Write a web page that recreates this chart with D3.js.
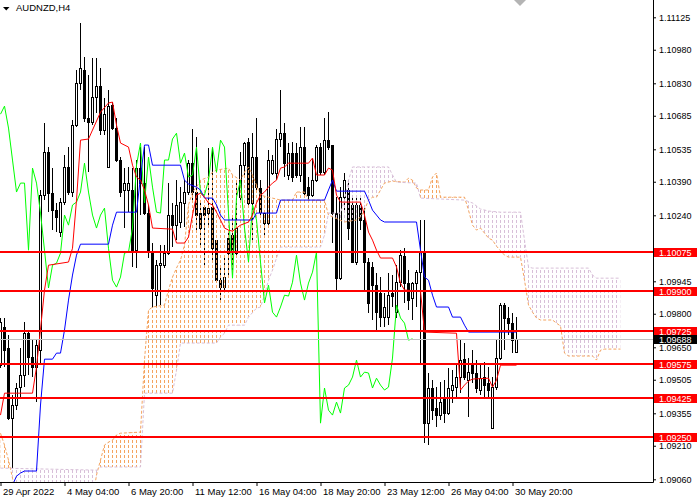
<!DOCTYPE html>
<html>
<head>
<meta charset="utf-8">
<script src="https://cdn.jsdelivr.net/npm/d3@7"></script>
<style>
  body { margin: 0; background: #fff; }
  svg { display: block; }
</style>
</head>
<body>
<script>
// AUDNZD H4 candles, oldest first (bar 0 = 29 Apr 12:00, bar 129 = 31 May 00:00)
const opens = [
  1.09570, 1.09740, 1.09646, 1.09334, 1.09392, 1.09472, 1.09526, 1.09713, 1.09606, 1.09562,
  1.09637, 1.10330, 1.10523, 1.10339, 1.10263, 1.10165, 1.10299, 1.10456, 1.10344, 1.10643,
  1.10831, 1.10889, 1.10675, 1.10657, 1.10768, 1.10818, 1.10621, 1.10456, 1.10733, 1.10630,
  1.10487, 1.10353, 1.10353, 1.10353, 1.10084, 1.10451, 1.10384, 1.10250, 1.10071, 1.09883,
  1.10017, 1.10017, 1.10071, 1.10241, 1.10196, 1.10210, 1.10295, 1.10344, 1.10473, 1.10344,
  1.10250, 1.10277, 1.10250, 1.10277, 1.10129, 1.09950, 1.09919, 1.10138, 1.10152, 1.10071,
  1.10321, 1.10464, 1.10567, 1.10295, 1.10500, 1.10362, 1.10205, 1.10205, 1.10429, 1.10429,
  1.10581, 1.10607, 1.10420, 1.10518, 1.10518, 1.10420, 1.10545, 1.10366, 1.10330, 1.10397,
  1.10545, 1.10433, 1.10576, 1.10554, 1.10250, 1.09959, 1.10321, 1.10353, 1.10286, 1.10031,
  1.10286, 1.10219, 1.10031, 1.10009, 1.09928, 1.09892, 1.09785, 1.09785, 1.09892, 1.09807,
  1.09941, 1.10058, 1.09937, 1.09870, 1.09937, 1.09986, 1.10076, 1.09311, 1.09468, 1.09378,
  1.09347, 1.09423, 1.09356, 1.09459, 1.09472, 1.09517, 1.09597, 1.09503, 1.09579, 1.09535,
  1.09459, 1.09517, 1.09490, 1.09289, 1.09472, 1.09602, 1.09839, 1.09781, 1.09758, 1.09629
];
const highs = [
  1.09781, 1.09781, 1.09705, 1.09436, 1.09490, 1.09646, 1.09763, 1.09727, 1.09682, 1.09682,
  1.10353, 1.10652, 1.10545, 1.10451, 1.10295, 1.10317, 1.10509, 1.10545, 1.10666, 1.10889,
  1.11099, 1.10947, 1.10867, 1.10943, 1.10943, 1.10898, 1.10764, 1.10800, 1.10746, 1.10675,
  1.10500, 1.10451, 1.10456, 1.10451, 1.10487, 1.10545, 1.10545, 1.10286, 1.10116, 1.10040,
  1.10107, 1.10107, 1.10384, 1.10295, 1.10397, 1.10366, 1.10397, 1.10487, 1.10625, 1.10590,
  1.10295, 1.10286, 1.10540, 1.10540, 1.10129, 1.10017, 1.10053, 1.10174, 1.10228, 1.10397,
  1.10523, 1.10567, 1.10585, 1.10607, 1.10675, 1.10397, 1.10254, 1.10531, 1.10509, 1.10625,
  1.10800, 1.10652, 1.10563, 1.10567, 1.10563, 1.10634, 1.10634, 1.10411, 1.10496, 1.10554,
  1.10563, 1.10675, 1.10701, 1.10554, 1.10321, 1.10366, 1.10429, 1.10397, 1.10321, 1.10330,
  1.10321, 1.10277, 1.10049, 1.10031, 1.09982, 1.09964, 1.09892, 1.09982, 1.09973, 1.10017,
  1.10084, 1.10093, 1.09995, 1.09941, 1.09995, 1.10219, 1.10219, 1.09535, 1.09503, 1.09472,
  1.09494, 1.09503, 1.09557, 1.09548, 1.09570, 1.09682, 1.09669, 1.09602, 1.09637, 1.09593,
  1.09579, 1.09584, 1.09562, 1.09517, 1.09682, 1.09848, 1.09848, 1.09830, 1.09803, 1.09785
];
const lows = [
  1.09557, 1.09562, 1.09325, 1.09110, 1.09369, 1.09427, 1.09472, 1.09526, 1.09517, 1.09405,
  1.09570, 1.10308, 1.10254, 1.10174, 1.10165, 1.10143, 1.10286, 1.10330, 1.10321, 1.10634,
  1.10800, 1.10657, 1.10433, 1.10643, 1.10697, 1.10599, 1.10599, 1.10451, 1.10621, 1.10478,
  1.10321, 1.10183, 1.10254, 1.10009, 1.10004, 1.10241, 1.10241, 1.10049, 1.09825, 1.09825,
  1.09839, 1.10004, 1.10062, 1.10098, 1.10129, 1.10183, 1.10187, 1.10330, 1.10295, 1.10174,
  1.10098, 1.10004, 1.10187, 1.10040, 1.09937, 1.09861, 1.09892, 1.09964, 1.09986, 1.10062,
  1.10308, 1.10420, 1.10286, 1.10116, 1.10344, 1.10241, 1.10143, 1.10187, 1.10420, 1.10397,
  1.10545, 1.10411, 1.10397, 1.10388, 1.10406, 1.10388, 1.10330, 1.10308, 1.10321, 1.10388,
  1.10420, 1.10420, 1.10531, 1.10116, 1.09906, 1.09950, 1.10263, 1.10129, 1.10026, 1.10017,
  1.10174, 1.09906, 1.09803, 1.09772, 1.09727, 1.09740, 1.09740, 1.09749, 1.09830, 1.09781,
  1.09919, 1.09848, 1.09816, 1.09772, 1.09830, 1.09579, 1.09222, 1.09213, 1.09325, 1.09293,
  1.09325, 1.09311, 1.09347, 1.09401, 1.09427, 1.09445, 1.09503, 1.09338, 1.09490, 1.09445,
  1.09436, 1.09427, 1.09427, 1.09289, 1.09459, 1.09593, 1.09637, 1.09705, 1.09624, 1.09624
];
const closes = [
  1.09763, 1.09637, 1.09334, 1.09392, 1.09468, 1.09526, 1.09713, 1.09606, 1.09562, 1.09660,
  1.10330, 1.10523, 1.10339, 1.10263, 1.10232, 1.10299, 1.10456, 1.10344, 1.10643, 1.10831,
  1.10898, 1.10675, 1.10657, 1.10768, 1.10818, 1.10621, 1.10692, 1.10728, 1.10630, 1.10487,
  1.10344, 1.10384, 1.10384, 1.10084, 1.10451, 1.10384, 1.10250, 1.10084, 1.09915, 1.10017,
  1.10026, 1.10071, 1.10241, 1.10196, 1.10286, 1.10299, 1.10344, 1.10473, 1.10344, 1.10241,
  1.10183, 1.10241, 1.10272, 1.10093, 1.09950, 1.09919, 1.09964, 1.10071, 1.10076, 1.10183,
  1.10464, 1.10563, 1.10295, 1.10500, 1.10366, 1.10254, 1.10250, 1.10487, 1.10487, 1.10581,
  1.10607, 1.10473, 1.10518, 1.10411, 1.10420, 1.10545, 1.10339, 1.10330, 1.10397, 1.10545,
  1.10433, 1.10576, 1.10545, 1.10250, 1.09959, 1.10321, 1.10397, 1.10183, 1.10031, 1.10286,
  1.10219, 1.10031, 1.09848, 1.09928, 1.09807, 1.09785, 1.09830, 1.09883, 1.09879, 1.09941,
  1.10062, 1.09937, 1.09861, 1.09937, 1.09986, 1.10076, 1.09311, 1.09468, 1.09369, 1.09347,
  1.09405, 1.09356, 1.09468, 1.09481, 1.09517, 1.09593, 1.09517, 1.09539, 1.09535, 1.09468,
  1.09512, 1.09481, 1.09459, 1.09472, 1.09602, 1.09839, 1.09781, 1.09758, 1.09682, 1.09688
];

// Ichimoku lines as [bar, price] turning points
const tenkan = [
  [0, 1.09347], [1, 1.09445], [8, 1.09445], [9, 1.09562], [10, 1.09731], [11, 1.09906],
  [12, 1.10017], [17, 1.10031], [18, 1.10093], [19, 1.10308], [20, 1.10576], [22, 1.10581],
  [23, 1.10621], [25, 1.10701], [27, 1.10742], [28, 1.10746], [29, 1.10643], [30, 1.10563],
  [32, 1.10545], [33, 1.10464], [34, 1.10411], [35, 1.10397], [36, 1.10353], [37, 1.10286],
  [38, 1.10183], [43, 1.10178], [44, 1.10116], [46, 1.10116], [47, 1.10143], [48, 1.10241],
  [49, 1.10330], [50, 1.10339], [51, 1.10321], [52, 1.10295], [53, 1.10286], [54, 1.10254],
  [55, 1.10219], [56, 1.10183], [57, 1.10174], [58, 1.10169], [59, 1.10183], [60, 1.10196],
  [62, 1.10210], [63, 1.10241], [64, 1.10295], [65, 1.10330], [66, 1.10344], [67, 1.10366],
  [68, 1.10384], [69, 1.10397], [70, 1.10451], [71, 1.10456], [72, 1.10473], [77, 1.10473],
  [78, 1.10496], [79, 1.10420], [81, 1.10420], [82, 1.10451], [83, 1.10442], [84, 1.10330],
  [85, 1.10299], [90, 1.10299], [91, 1.10241], [92, 1.10165], [93, 1.10129], [94, 1.10084],
  [95, 1.10049], [98, 1.10049], [99, 1.10009], [100, 1.09937], [101, 1.09906], [105, 1.09901],
  [106, 1.09718], [114, 1.09713], [115, 1.09459], [116, 1.09481], [117, 1.09499], [118, 1.09508],
  [122, 1.09512], [123, 1.09472], [124, 1.09503], [125, 1.09570], [129, 1.09570]
];
const kijun = [
  [3, 1.09034], [4, 1.09074], [5, 1.09088], [6, 1.09097], [9, 1.09097], [10, 1.09392],
  [11, 1.09597], [13, 1.09597], [14, 1.09624], [15, 1.09624], [16, 1.09727], [17, 1.09861],
  [18, 1.09973], [19, 1.10062], [20, 1.10111], [27, 1.10111], [28, 1.10196], [29, 1.10254],
  [34, 1.10254], [35, 1.10411], [36, 1.10554], [37, 1.10554], [38, 1.10464], [45, 1.10464],
  [46, 1.10397], [47, 1.10380], [49, 1.10366], [50, 1.10353], [51, 1.10317], [53, 1.10317],
  [54, 1.10286], [55, 1.10241], [56, 1.10219], [63, 1.10219], [64, 1.10250], [69, 1.10250],
  [70, 1.10308], [81, 1.10308], [82, 1.10353], [83, 1.10397], [84, 1.10348], [91, 1.10348],
  [92, 1.10308], [93, 1.10263], [94, 1.10241], [95, 1.10219], [96, 1.10210], [104, 1.10210],
  [105, 1.10084], [106, 1.09964], [107, 1.09950], [108, 1.09883], [109, 1.09830], [112, 1.09830],
  [113, 1.09785], [115, 1.09785], [116, 1.09749], [117, 1.09718], [129, 1.09718]
];
// cloud edges run 26 bars past the last candle
const spanA = [
  [0, 1.09266], [1, 1.09213], [2, 1.09146], [3, 1.09065], [4, 1.08967], [23, 1.08967],
  [24, 1.09079], [25, 1.09146], [26, 1.09213], [27, 1.09226], [28, 1.09235], [29, 1.09258],
  [30, 1.09266], [35, 1.09271], [36, 1.09593], [37, 1.09816], [38, 1.09830], [41, 1.09839],
  [42, 1.09906], [43, 1.09964], [44, 1.10004], [45, 1.10040], [46, 1.10107], [47, 1.10286],
  [48, 1.10344], [49, 1.10366], [50, 1.10397], [52, 1.10411], [53, 1.10433], [54, 1.10442],
  [57, 1.10451], [58, 1.10420], [60, 1.10397], [61, 1.10433], [62, 1.10456], [63, 1.10420],
  [64, 1.10375], [65, 1.10330], [70, 1.10308], [73, 1.10308], [74, 1.10344], [76, 1.10344],
  [77, 1.10308], [81, 1.10308], [82, 1.10241], [86, 1.10210], [89, 1.10219], [90, 1.10232],
  [91, 1.10263], [92, 1.10308], [93, 1.10321], [94, 1.10321], [95, 1.10353], [96, 1.10384],
  [98, 1.10393], [101, 1.10388], [102, 1.10406], [103, 1.10397], [104, 1.10362], [105, 1.10353],
  [107, 1.10353], [108, 1.10411], [109, 1.10429], [110, 1.10321], [116, 1.10321], [117, 1.10263],
  [118, 1.10196], [119, 1.10174], [120, 1.10183], [122, 1.10138], [123, 1.10129], [124, 1.10102],
  [126, 1.10062], [127, 1.10053], [130, 1.10053], [131, 1.09950], [132, 1.09839], [133, 1.09807],
  [134, 1.09781], [135, 1.09772], [138, 1.09772], [139, 1.09758], [140, 1.09745], [141, 1.09624],
  [142, 1.09611], [148, 1.09611], [149, 1.09593], [150, 1.09637], [151, 1.09642], [155, 1.09642]
];
const spanB = [
  [0, 1.09110], [24, 1.09101], [25, 1.09115], [35, 1.09115], [36, 1.09445], [43, 1.09445],
  [44, 1.09548], [45, 1.09669], [54, 1.09669], [55, 1.09696], [56, 1.09713], [57, 1.09749],
  [61, 1.09749], [62, 1.09785], [64, 1.09825], [65, 1.09830], [66, 1.09883], [67, 1.09950],
  [68, 1.09995], [69, 1.10049], [70, 1.10098], [80, 1.10098], [81, 1.10152], [82, 1.10250],
  [85, 1.10250], [86, 1.10308], [87, 1.10397], [88, 1.10456], [97, 1.10456], [98, 1.10420],
  [99, 1.10388], [104, 1.10384], [105, 1.10317], [116, 1.10308], [118, 1.10295], [120, 1.10268],
  [122, 1.10259], [125, 1.10254], [130, 1.10254], [131, 1.10129], [132, 1.10009], [133, 1.10004],
  [147, 1.10004], [148, 1.09973], [149, 1.09959], [155, 1.09959]
];

// the tick between 1.10240 and 1.09945 sits under the 1.10075 tag, so it is left out
const priceTicks = [1.11125, 1.10980, 1.10830, 1.10685, 1.10535, 1.10390, 1.10240,
  1.09945, 1.09800, 1.09650, 1.09505, 1.09355, 1.09210, 1.09060];
const levelPrices = [1.10075, 1.09900, 1.09725, 1.09575, 1.09425, 1.09250];
const bidPrice = 1.09688;
const timeTickBars = [0, 16, 32, 48, 64, 80, 96, 112, 128];
const timeTickLabels = ["29 Apr 2022", "4 May 04:00", "6 May 20:00", "11 May 12:00",
  "16 May 04:00", "18 May 20:00", "23 May 12:00", "26 May 04:00", "30 May 20:00"];

var W = 700, H = 500, plotW = 653, plotH = 482;
var font = "'Liberation Sans', Arial, sans-serif";

// 4 px per bar, bar centres on half pixels so 1px lines stay crisp
var x = d3.scaleLinear().domain([0, 1]).range([0.5, 4.5]);
var y = d3.scaleLinear().domain([1.0906, 1.11125]).range([479.3, 17.3]);

var svg = d3
  .select("body")
  .append("svg")
  .attr("width", W)
  .attr("height", H)
  .style("background", "#fff");

var defs = svg.append("defs");
defs.append("clipPath").attr("id", "plot")
  .append("rect").attr("width", plotW).attr("height", plotH);

// dotted vertical hatching used for the cloud
function hatch(id, color) {
  defs.append("pattern")
    .attr("id", id)
    .attr("width", 4)
    .attr("height", 5)
    .attr("patternUnits", "userSpaceOnUse")
    .append("rect")
    .attr("width", 1)
    .attr("height", 3)
    .attr("fill", color);
}
hatch("hatchA", "#f4a460");
hatch("hatchB", "#d8bfd8");

// half-planes above / below each span line, used to split the cloud by colour
function band(id, pts, side) {
  var area = d3.area()
    .x((d) => x(d[0]))
    .y0((d) => (side === "above" ? -10 : y(d[1])))
    .y1((d) => (side === "above" ? y(d[1]) : plotH + 10));
  defs.append("clipPath").attr("id", id).append("path").attr("d", area(pts));
}
band("aboveA", spanA, "above");
band("belowA", spanA, "below");
band("aboveB", spanB, "above");
band("belowB", spanB, "below");

var plot = svg.append("g").attr("clip-path", "url(#plot)");

// Candles
var candles = opens.map((o, i) => ({ i: i, o: o, h: highs[i], l: lows[i], c: closes[i] }));

plot.selectAll("line.wick")
  .data(candles)
  .enter()
  .append("line")
  .attr("class", "wick")
  .attr("x1", (d) => x(d.i))
  .attr("x2", (d) => x(d.i))
  .attr("y1", (d) => Math.round(y(d.h)))
  .attr("y2", (d) => Math.round(y(d.l)))
  .attr("stroke", "#000");

plot.selectAll("rect.body")
  .data(candles)
  .enter()
  .append("rect")
  .attr("class", "body")
  .attr("x", (d) => x(d.i) - 1)
  .attr("width", 2)
  .attr("y", (d) => Math.round(y(Math.max(d.o, d.c))) + 0.5)
  .attr("height", (d) =>
    Math.max(1, Math.round(y(Math.min(d.o, d.c))) - Math.round(y(Math.max(d.o, d.c))))
  )
  .attr("fill", (d) => (d.c >= d.o ? "#fff" : "#000"))
  .attr("stroke", "#000");

// Cloud: orange where span A is on top, thistle where span B is on top
plot.append("g")
  .attr("clip-path", "url(#belowA)")
  .append("rect")
  .attr("clip-path", "url(#aboveB)")
  .attr("width", plotW)
  .attr("height", plotH)
  .attr("fill", "url(#hatchA)");
plot.append("g")
  .attr("clip-path", "url(#belowB)")
  .append("rect")
  .attr("clip-path", "url(#aboveA)")
  .attr("width", plotW)
  .attr("height", plotH)
  .attr("fill", "url(#hatchB)");

var line = d3.line().x((d) => x(d[0])).y((d) => y(d[1]));

plot.append("path")
  .attr("d", line(spanA))
  .attr("fill", "none")
  .attr("stroke", "#f4a460")
  .attr("stroke-dasharray", "3,2");
plot.append("path")
  .attr("d", line(spanB))
  .attr("fill", "none")
  .attr("stroke", "#d8bfd8")
  .attr("stroke-dasharray", "3,2");

// Chikou span = closes drawn 26 bars back
var chikou = closes.slice(26).map((c, i) => [i, c]);
plot.append("path")
  .attr("d", line(chikou))
  .attr("fill", "none")
  .attr("stroke", "#00ff00");

plot.append("path")
  .attr("d", line(kijun))
  .attr("fill", "none")
  .attr("stroke", "#0000ff");
plot.append("path")
  .attr("d", line(tenkan))
  .attr("fill", "none")
  .attr("stroke", "#ff0000");

// bid line
plot.append("line")
  .attr("x1", 0)
  .attr("x2", plotW)
  .attr("y1", Math.round(y(bidPrice)) + 0.5)
  .attr("y2", Math.round(y(bidPrice)) + 0.5)
  .attr("stroke", "#c0c0c0");

// horizontal levels
plot.selectAll("line.level")
  .data(levelPrices)
  .enter()
  .append("line")
  .attr("class", "level")
  .attr("x1", 0)
  .attr("x2", plotW)
  .attr("y1", (d) => Math.round(y(d)))
  .attr("y2", (d) => Math.round(y(d)))
  .attr("stroke", "#ff0000")
  .attr("stroke-width", 2);

// chart shift marker
svg.append("polygon")
  .attr("points", "514,0 526,0 520,6")
  .attr("fill", "#b4b4b4");

// frame
svg.append("line")
  .attr("x1", plotW + 0.5).attr("x2", plotW + 0.5)
  .attr("y1", 0).attr("y2", plotH + 0.5)
  .attr("stroke", "#000");
svg.append("line")
  .attr("x1", 0).attr("x2", plotW + 0.5)
  .attr("y1", plotH + 0.5).attr("y2", plotH + 0.5)
  .attr("stroke", "#000");

// Price axis
var yAxis = svg.append("g")
  .attr("transform", "translate(" + plotW + ",0)")
  .call(d3.axisRight(y).tickValues(priceTicks).tickFormat(d3.format(".5f")).tickSize(3).tickPadding(3));
yAxis.select(".domain").remove();
yAxis.selectAll("text")
  .attr("font-family", font)
  .attr("font-size", "9px")
  .attr("fill", "#000");

// Time axis
var xAxis = svg.append("g")
  .attr("transform", "translate(0," + plotH + ")")
  .call(
    d3.axisBottom(x)
      .tickValues(timeTickBars)
      .tickFormat((d, i) => timeTickLabels[i])
      .tickSize(4)
      .tickPadding(2)
  );
xAxis.select(".domain").remove();
xAxis.selectAll("text")
  .attr("font-family", font)
  .attr("font-size", "9.5px")
  .attr("text-anchor", "start")
  .attr("x", 2)
  .attr("fill", "#000");

// Level and bid labels on the price axis
function priceTag(price, color) {
  var yy = Math.round(y(price));
  svg.append("rect")
    .attr("x", plotW + 1)
    .attr("y", yy - 4)
    .attr("width", 43)
    .attr("height", 9)
    .attr("fill", color);
  svg.append("text")
    .attr("x", plotW + 6)
    .attr("y", yy + 3.5)
    .attr("font-family", font)
    .attr("font-size", "9px")
    .attr("fill", "#fff")
    .text(d3.format(".5f")(price));
}
levelPrices.forEach((p) => priceTag(p, "#ff0000"));
priceTag(bidPrice, "#000");

// Title
svg.append("polygon")
  .attr("points", "3,7 9.5,7 6.25,10.5")
  .attr("fill", "#000");
svg.append("text")
  .attr("x", 16)
  .attr("y", 11)
  .attr("font-family", font)
  .attr("font-size", "9.5px")
  .attr("fill", "#000")
  .text("AUDNZD,H4");
</script>
</body>
</html>
